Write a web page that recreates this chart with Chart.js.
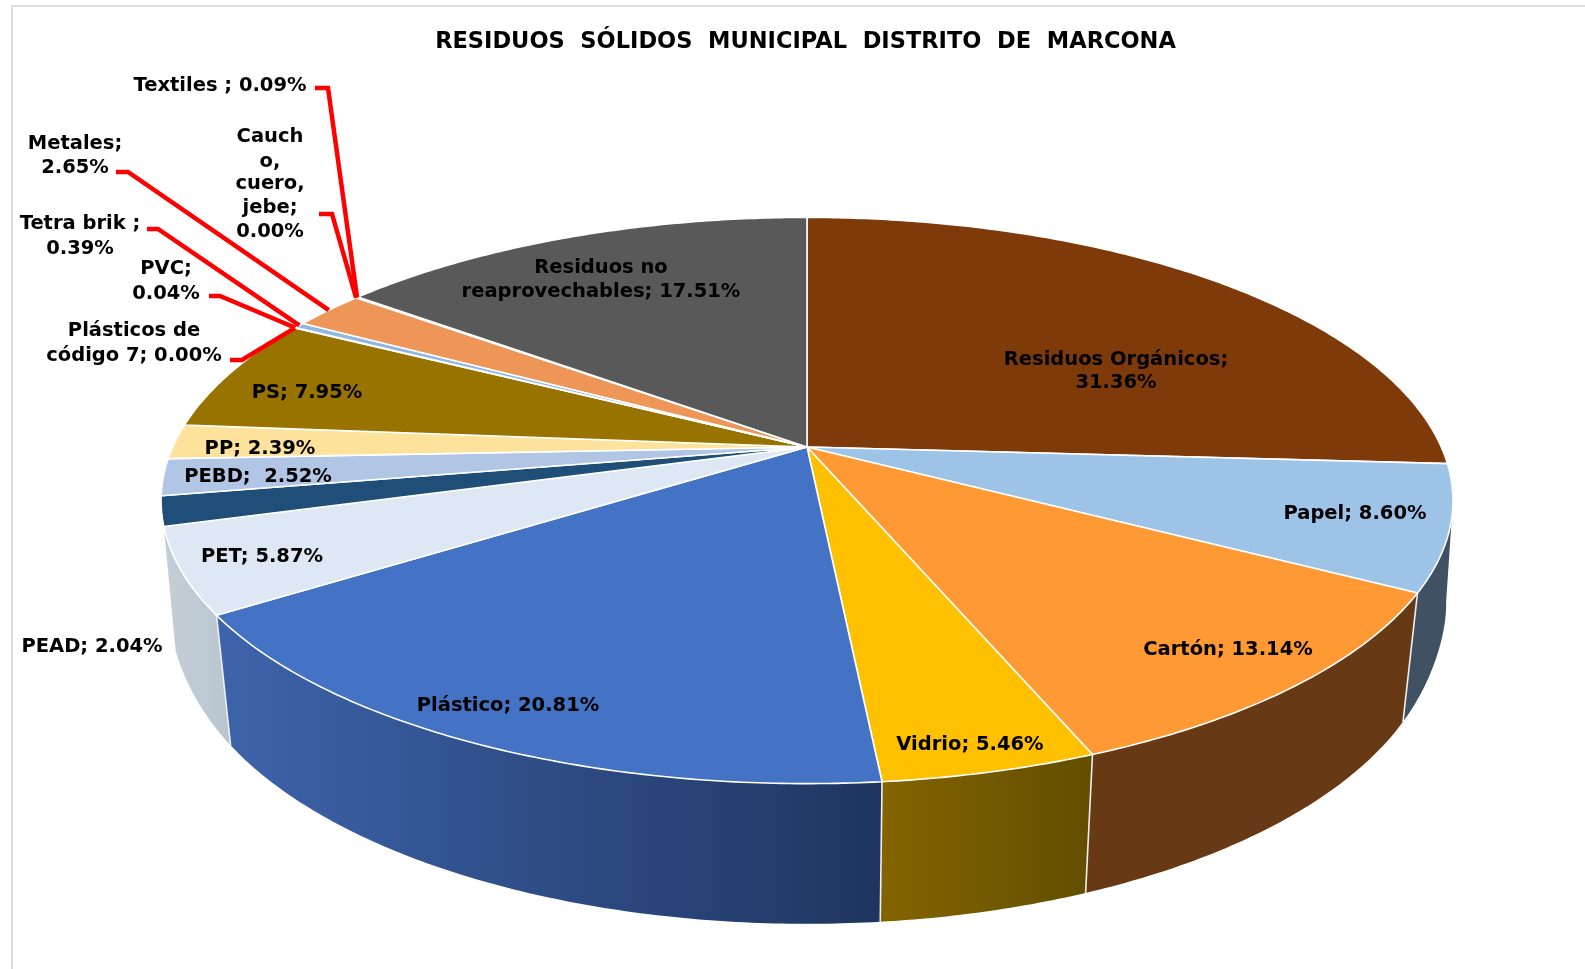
<!DOCTYPE html>
<html><head><meta charset="utf-8">
<style>html,body{margin:0;padding:0;background:#fff;overflow:hidden}canvas{display:block}</style>
<script src="https://cdn.jsdelivr.net/npm/chart.js@4/dist/chart.umd.min.js"></script>
</head><body><canvas id="c" width="1585" height="969"></canvas>
<script>
const categories = ["Residuos Orgánicos","Papel","Cartón","Vidrio","Plástico","PET","PEAD","PEBD","PP","PS","Plásticos de código 7","PVC","Tetra brik","Metales","Caucho, cuero, jebe","Textiles","Residuos no reaprovechables"];
const values = [31.36,8.60,13.14,5.46,20.81,5.87,2.04,2.52,2.39,7.95,0.00,0.04,0.39,2.65,0.00,0.09,17.51];
const sliceColors = ["#7F3A0A","#9DC3E6","#FF9933","#FFC000","#4472C4","#DEE8F4","#1F4E79","#B1C5E4","#FCE29A","#997300","#264478","#43682B","#8FB7E0","#EE9657","#9E480E","#636363","#595959"];
const wallColors = [["#3F5162","#3F5162"],["#3F5162","#3F5162"],["#673A15","#673A15"],["#846400","#624E00"],["#3D64AB","#1F3560"],["#C4CED7","#B8C5CF"],null,null,null,null,null,null,null,null,null,null,null];
const labelLines = [["Residuos Orgánicos;","31.36%"],["Papel; 8.60%"],["Cartón; 13.14%"],["Vidrio; 5.46%"],["Plástico; 20.81%"],["PET; 5.87%"],["PEAD; 2.04%"],["PEBD;  2.52%"],["PP; 2.39%"],["PS; 7.95%"],["Plásticos de","código 7; 0.00%"],["PVC;","0.04%"],["Tetra brik ;","0.39%"],["Metales;","2.65%"],["Cauch","o,","cuero,","jebe;","0.00%"],["Textiles ; 0.09%"],["Residuos no","reaprovechables; 17.51%"]];
const titleText = "RESIDUOS  SÓLIDOS  MUNICIPAL  DISTRITO  DE  MARCONA";

// label placement: centre x, and the centre y of each line
const labelX = [1116,1355,1228,970,508,262,92,258,260,307,134,166,80,75,270,220,601];
const labelY = [[360,383],[514],[650],[744.5],[706],[557],[647],[477],[449],[393],[331,356],[269,294],[224,249],[144,168],[137,162,184,208,232],[86],[268,292]];
// leader stubs beside a label: [start x, elbow x, y]; the far end is computed from the slice
const leaders = {10:[230,242,360],11:[209,220,296],12:[147,158,229],13:[116,128,172],14:[319,332,214],15:[315,328,88]};

// perspective projection of the pie disc
const apexX = 807, apexY = 447, radX = 634.3, radY = 273, persp = -0.189;
const baseScaleX = 0.976, baseScaleY = 1.06, baseOffY = 120;
const WALL_ORDER = [0,5,4,1,2,3];
const WALL_SEPARATORS = [1,2,3,4];

function rim(a){ // a = Chart.js arc angle
  const t = a + Math.PI/2, u = Math.sin(t), v = -Math.cos(t), w = 1 + persp*v;
  return [radX*u/w, radY*v/w];
}
const top3 = p => [apexX+p[0], apexY+p[1]];
const bot3 = p => [apexX+(baseScaleX+0.02*Math.exp(-Math.pow(p[1]/70,2)))*p[0], apexY+baseOffY+baseScaleY*p[1]];
function arcSteps(s,e){ const n=Math.max(2,Math.ceil((e-s)/0.01)); const r=[]; for(let i=0;i<=n;i++) r.push(s+(e-s)*i/n); return r; }
function area(q){ let s=0; q.forEach((p,i)=>{const n=q[(i+1)%q.length]; s+=p[0]*n[1]-n[0]*p[1];}); return s; }

const pie3d = {
  id:'pie3d',
  beforeDraw(chart){
    const c=chart.ctx; c.save(); c.fillStyle='#fff'; c.fillRect(0,0,chart.width,chart.height);
    c.strokeStyle='#DDDDDD'; c.lineWidth=2; c.beginPath(); c.moveTo(12,975); c.lineTo(12,6); c.lineTo(1590,6); c.stroke(); c.restore();
  },
  beforeDatasetDraw(chart){
    const c=chart.ctx, arcs=chart.getDatasetMeta(0).data;
    c.save(); c.lineJoin='round';
    for(const i of WALL_ORDER){
      const col=wallColors[i]; if(!col) continue;
      const st=arcSteps(arcs[i].startAngle,arcs[i].endAngle).map(rim);
      const xs=st.map(top3).concat(st.map(bot3)).filter(p=>p[1]>apexY).map(p=>p[0]);
      const g=c.createLinearGradient(Math.min(...xs),0,Math.max(...xs),0);
      g.addColorStop(0,col[0]); g.addColorStop(1,col[1]);
      c.fillStyle=g; c.beginPath();
      for(let k=0;k<st.length-1;k++){
        let q=[top3(st[k]),top3(st[k+1]),bot3(st[k+1]),bot3(st[k])];
        if(area(q)<0) q=q.reverse();
        q.forEach((p,m)=>m?c.lineTo(p[0],p[1]):c.moveTo(p[0],p[1])); c.closePath();
      }
      c.fill();
    }
    c.strokeStyle='#EEEEEE'; c.lineWidth=1.6;
    for(const i of WALL_SEPARATORS){
      const p=rim(arcs[i].endAngle), a=top3(p), b=bot3(p);
      c.beginPath(); c.moveTo(a[0],a[1]); c.lineTo(b[0],b[1]); c.stroke();
    }
    arcs.forEach((el,i)=>{
      if(el.endAngle-el.startAngle<=0) return;
      c.beginPath(); c.moveTo(apexX,apexY);
      arcSteps(el.startAngle,el.endAngle).map(rim).map(top3).forEach(p=>c.lineTo(p[0],p[1]));
      c.closePath(); c.fillStyle=sliceColors[i]; c.fill();
      c.strokeStyle='#FFFFFF'; c.lineWidth=values[i]<0.2?0:1.6; if(c.lineWidth) c.stroke();
    });
    c.restore();
    return false;
  },
  afterDatasetsDraw(chart){
    const c=chart.ctx, arcs=chart.getDatasetMeta(0).data;
    c.save(); c.strokeStyle='#FF0000'; c.lineWidth=4.5; c.lineJoin='miter';
    for(const k of Object.keys(leaders)){
      const [x0,x1,y]=leaders[k], el=arcs[k];
      const e=top3(rim((el.startAngle+el.endAngle)/2));
      c.beginPath(); c.moveTo(x0,y); c.lineTo(x1,y); c.lineTo(e[0],e[1]); c.stroke();
    }
    c.fillStyle='#000'; c.textAlign='center'; c.textBaseline='middle';
    c.font='bold 19.5px "DejaVu Sans"';
    labelLines.forEach((ls,i)=>ls.forEach((t,j)=>c.fillText(t,labelX[i],labelY[i][j])));
    c.restore();
  }
};

new Chart(document.getElementById('c'),{
  type:'pie',
  data:{labels:categories,datasets:[{data:values,backgroundColor:sliceColors,borderWidth:0}]},
  plugins:[pie3d],
  options:{responsive:false,animation:false,
    layout:{padding:{left:26,top:29}},
    plugins:{legend:{display:false},tooltip:{enabled:false},
      title:{display:true,text:titleText,color:'#000',font:{family:'"DejaVu Sans"',size:22.5,weight:'bold'},padding:{top:0,bottom:10}}}}
});
</script></body></html>
